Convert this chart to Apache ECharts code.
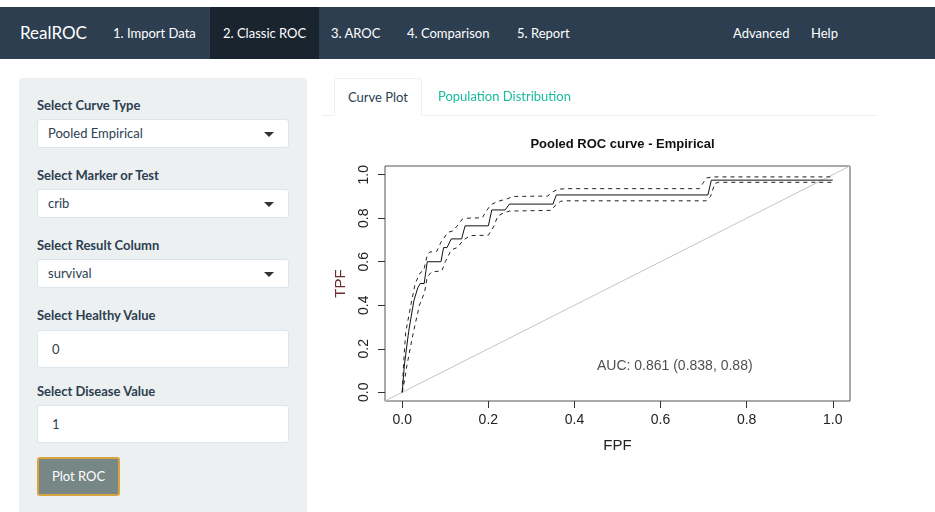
<!DOCTYPE html>
<html>
<head>
<meta charset="utf-8">
<script src="https://cdn.jsdelivr.net/npm/echarts@6/dist/echarts.min.js"></script>
<style>
  html, body { margin: 0; padding: 0; width: 935px; height: 512px; overflow: hidden; background: #fff; font-family: Lato, "Open Sans", sans-serif; }
  #chart { position: absolute; left: 0; top: 0; width: 935px; height: 512px; z-index: 0; }
  .ui { position: absolute; z-index: 1; }
  .navbar { left: 0; top: 7px; width: 935px; height: 52px; background: #2c3e50; }
  .nav { position: absolute; top: 0; height: 52px; line-height: 52px; color: #fff; font-size: 13px; white-space: nowrap; }
  .brand { font-size: 17px; }
  .nav.active { background: #1a242f; padding: 0 13px; }
  .well { left: 19px; top: 78px; width: 288px; height: 450px; background: #ecf0f1; border-radius: 4px; }
  .lbl { position: absolute; left: 18px; font-weight: bold; font-size: 13px; color: #2c3e50; white-space: nowrap; }
  .sel, .inp { position: absolute; left: 18px; width: 252px; background: #fff; border: 1px solid #dce4ec; border-radius: 3px; box-sizing: border-box; font-size: 13px; color: #2c3e50; }
  .sel { height: 29px; line-height: 27px; padding-left: 10px; }
  .sel::after { content: ""; position: absolute; right: 14px; top: 12px; border-left: 5px solid transparent; border-right: 5px solid transparent; border-top: 5px solid #333; }
  .inp { height: 38px; line-height: 36px; padding-left: 14px; }
  .btn { position: absolute; left: 18px; top: 379px; width: 83px; height: 39px; box-sizing: border-box; background: #768786; border: 2px solid #d8a23e; border-radius: 3px; color: #fff; font-size: 13px; line-height: 35px; text-align: center; }
  .tabline { left: 322px; top: 115px; width: 555px; height: 1px; background: #ecf0f1; }
  .tab { top: 78px; height: 37px; line-height: 37px; font-size: 13px; white-space: nowrap; }
  .tab.active { left: 334px; width: 88px; box-sizing: border-box; border: 1px solid #ecf0f1; border-bottom: 1px solid #fff; border-radius: 4px 4px 0 0; color: #2c3e50; text-align: center; height: 38px; background: #fff; }
  .tab.other { left: 438px; color: #18bc9c; }
</style>
</head>
<body>
<div id="chart"></div>

<div class="ui navbar">
  <div class="nav brand" style="left:20px">RealROC</div>
  <div class="nav" style="left:113px">1. Import Data</div>
  <div class="nav active" style="left:210px">2. Classic ROC</div>
  <div class="nav" style="left:331px">3. AROC</div>
  <div class="nav" style="left:407px">4. Comparison</div>
  <div class="nav" style="left:517px">5. Report</div>
  <div class="nav" style="left:733px">Advanced</div>
  <div class="nav" style="left:811px">Help</div>
</div>

<div class="ui well">
  <div class="lbl" style="top:19px">Select Curve Type</div>
  <div class="sel" style="top:41px">Pooled Empirical</div>
  <div class="lbl" style="top:89px">Select Marker or Test</div>
  <div class="sel" style="top:111px">crib</div>
  <div class="lbl" style="top:159px">Select Result Column</div>
  <div class="sel" style="top:181px">survival</div>
  <div class="lbl" style="top:229px">Select Healthy Value</div>
  <div class="inp" style="top:252px">0</div>
  <div class="lbl" style="top:305px">Select Disease Value</div>
  <div class="inp" style="top:327px">1</div>
  <div class="btn">Plot ROC</div>
</div>

<div class="ui tabline"></div>
<div class="ui tab active">Curve Plot</div>
<div class="ui tab other">Population Distribution</div>

<script>
// Pooled empirical ROC curve: (FPF, TPF) vertices
const rocCurve = [
  [0, 0], [0.005, 0.125], [0.015, 0.28], [0.027, 0.42], [0.036, 0.48], [0.042, 0.50],
  [0.051, 0.50], [0.058, 0.60], [0.090, 0.60], [0.096, 0.665], [0.104, 0.665],
  [0.114, 0.705], [0.138, 0.705], [0.146, 0.765], [0.200, 0.765], [0.208, 0.838],
  [0.239, 0.838], [0.249, 0.865], [0.350, 0.865], [0.358, 0.907], [0.710, 0.907],
  [0.718, 0.975], [1.0, 0.975]
];

// Upper confidence band
const rocUpper = [
  [0, 0], [0.003, 0.125], [0.008, 0.275], [0.020, 0.40], [0.030, 0.50], [0.042, 0.55],
  [0.050, 0.56], [0.058, 0.63], [0.064, 0.645], [0.080, 0.647], [0.090, 0.69],
  [0.106, 0.735], [0.118, 0.742], [0.130, 0.77], [0.140, 0.797], [0.150, 0.80],
  [0.186, 0.802], [0.196, 0.835], [0.206, 0.862], [0.220, 0.876], [0.245, 0.89],
  [0.258, 0.900], [0.338, 0.902], [0.350, 0.922], [0.362, 0.933], [0.380, 0.936],
  [0.690, 0.936], [0.698, 0.96], [0.707, 0.985], [0.720, 0.99], [1.0, 0.99]
];

// Lower confidence band
const rocLower = [
  [0, 0], [0.006, 0.06], [0.011, 0.125], [0.026, 0.277], [0.040, 0.40], [0.046, 0.43],
  [0.052, 0.46], [0.058, 0.53], [0.068, 0.553], [0.092, 0.558], [0.100, 0.60],
  [0.114, 0.655], [0.128, 0.665], [0.142, 0.70], [0.158, 0.72], [0.200, 0.722],
  [0.212, 0.76], [0.222, 0.81], [0.236, 0.825], [0.250, 0.833], [0.346, 0.836],
  [0.356, 0.86], [0.368, 0.878], [0.380, 0.88], [0.706, 0.88], [0.716, 0.90],
  [0.726, 0.96], [0.735, 0.965], [1.0, 0.965]
];

// Chance line across the whole plotting region
const chanceLine = [[-0.04, -0.04], [1.04, 1.04]];

const tickValues = [0, 0.2, 0.4, 0.6, 0.8, 1.0];
const aucText = 'AUC: 0.861 (0.838, 0.88)';
const aucPosition = [0.633, 0.12];

const chart = echarts.init(document.getElementById('chart'), null, { renderer: 'canvas' });

const plotFont = '"Liberation Sans", Arial, sans-serif';

const axisCommon = {
  type: 'value',
  min: -0.04,
  max: 1.04,
  axisLine: { show: false, onZero: false },
  splitLine: { show: false },
  axisTick: { show: true, customValues: tickValues, length: 7, lineStyle: { color: '#333', width: 1 } },
  nameLocation: 'middle',
  nameTextStyle: { fontFamily: plotFont, fontSize: 15, color: '#222' }
};

chart.setOption({
  animation: false,
  title: {
    text: 'Pooled ROC curve - Empirical',
    left: 617.5,
    top: 133,
    textAlign: 'center',
    textStyle: { fontFamily: plotFont, fontSize: 13, fontWeight: 'bold', color: '#111' }
  },
  grid: {
    left: 385, top: 166, width: 465, height: 235,
    show: true, borderColor: '#555', borderWidth: 1, backgroundColor: 'transparent'
  },
  xAxis: Object.assign({}, axisCommon, {
    name: 'FPF',
    nameGap: 37,
    axisLabel: {
      customValues: tickValues, margin: 12,
      formatter: v => v.toFixed(1),
      fontFamily: plotFont, fontSize: 14, color: '#222'
    }
  }),
  yAxis: Object.assign({}, axisCommon, {
    name: 'TPF',
    nameGap: 37,
    nameTextStyle: { fontFamily: plotFont, fontSize: 15, color: '#6e2b2b' },
    axisLabel: {
      customValues: tickValues, margin: 14, rotate: 90,
      formatter: v => v.toFixed(1),
      fontFamily: plotFont, fontSize: 14, color: '#222'
    }
  }),
  series: [
    {
      type: 'line', data: chanceLine, symbol: 'none', silent: true,
      lineStyle: { color: '#c4c4c4', width: 1 }
    },
    {
      type: 'line', data: rocUpper, symbol: 'none', silent: true,
      lineStyle: { color: '#222', width: 1, type: [4, 4] }
    },
    {
      type: 'line', data: rocLower, symbol: 'none', silent: true,
      lineStyle: { color: '#222', width: 1, type: [4, 4] }
    },
    {
      type: 'line', data: rocCurve, symbol: 'none', silent: true,
      lineStyle: { color: '#111', width: 1 }
    },
    {
      type: 'scatter', data: [aucPosition], symbolSize: 0, silent: true,
      label: {
        show: true, position: 'inside', formatter: aucText,
        fontFamily: plotFont, fontSize: 14, color: '#222'
      }
    }
  ]
});
</script>
</body>
</html>
